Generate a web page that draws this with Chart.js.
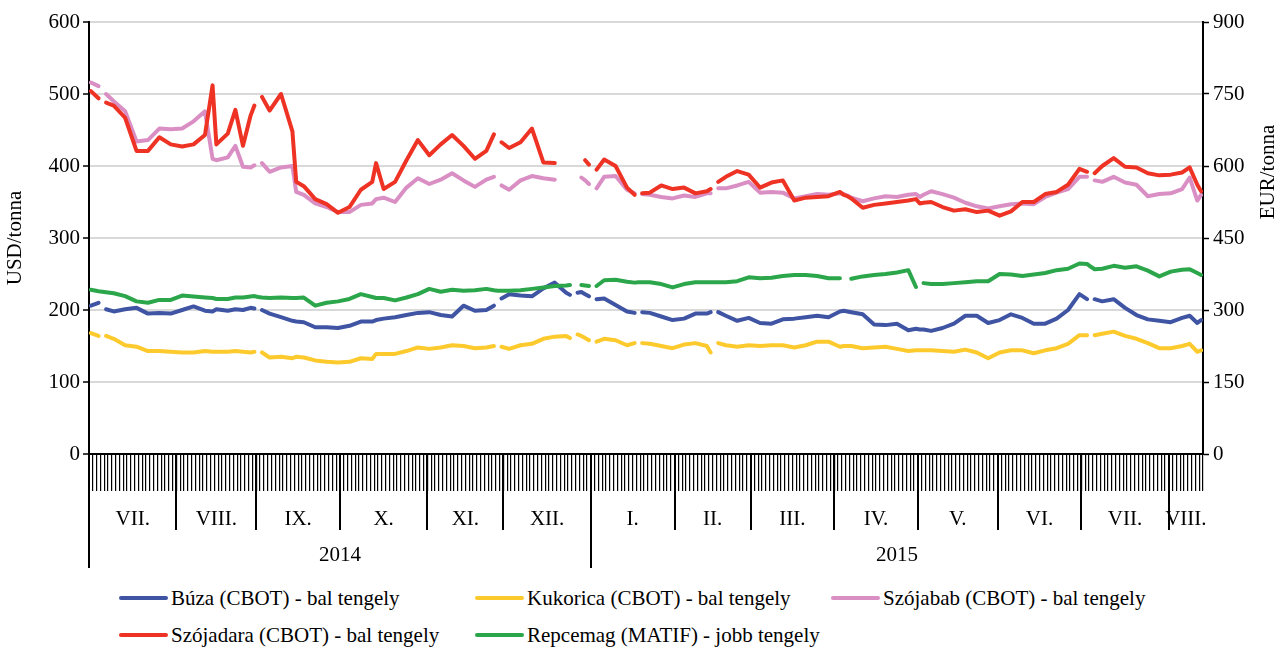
<!DOCTYPE html>
<html>
<head>
    <meta charset="utf-8">
    <title>Búza, kukorica, szója és repce árak</title>
    <script src="https://cdn.jsdelivr.net/npm/chart.js"></script>
    <style>
        body {
            margin: 0;
            background: #fff;
            font-family: 'Liberation Serif', 'Times New Roman', serif;
        }

        .wrap {
            position: relative;
            width: 1283px;
            height: 648px;
        }

        .chart-box {
            position: absolute;
            left: 0;
            top: 0;
            width: 1283px;
            height: 580px;
        }

        .legend-item {
            position: absolute;
            display: flex;
            align-items: center;
            font-size: 21px;
            line-height: 24px;
            height: 24px;
            color: #000;
            white-space: nowrap;
        }

            .legend-item .swatch {
                width: 49px;
                height: 4px;
                border-radius: 2px;
                margin-right: 3px;
            }
    </style>
</head>
<body>
    <div class="wrap">
        <div class="chart-box">
            <canvas id="priceChart" width="1283" height="580"></canvas>
        </div>
        <div id="legend"></div>
    </div>

    <script>
        // Kereskedési napok sorszáma (2014. júl. 1. = 0), a grafikon pontjai
        const days = [0, 2, 3, 4, 6,
            9, 12, 15, 18, 21, 24, 27, 30, 32, 33,
            36, 38, 40, 42, 43, 44, 45, 47, 50, 53,
            54, 56, 59, 62, 65, 68, 71, 74, 75, 77,
            80, 83, 86, 89, 92, 95, 98, 101, 104, 106,
            107, 108, 110, 113, 116, 119, 122, 125, 126, 127,
            128, 129, 130, 131, 132, 133, 135, 138, 141, 143,
            144, 145, 147, 150, 153, 156, 159, 162, 163, 164,
            165, 167, 170, 173, 176, 179, 182, 185, 188, 191,
            194, 197, 198, 199, 200, 203, 206, 209, 212, 215,
            217, 218, 219, 221, 224, 227, 230, 233, 236, 239,
            242, 245, 248, 251, 254, 257, 260, 262, 263, 264,
            266, 269, 272, 275, 278, 281, 284, 287, 289, 291,
            292];

        // USD/tonna
        const buza = [206, 210, null, 201, 198,
            201, 203, 195, 196, 195, 200, 205, 199, 198, 201,
            199, 201, 200, 203, 202, null, 200, 195, 190, 185,
            184, 183, 176, 176, 175, 178, 184, 184, 186, 188,
            190, 193, 196, 197, 193, 191, 206, 199, 200, 206,
            null, 216, 222, 220, 219, 230, 238, 224, 221, null,
            224, 225, 222, 219, null, 215, 216, 207, 198, 196,
            null, 197, 196, 191, 186, 188, 195, 195, 197, null,
            197, 192, 185, 189, 182, 181, 187, 188, 190, 192,
            190, 198, 199, 198, 197, 194, 180, 179, 181, 172,
            174, 173, 173, 171, 175, 181, 192, 192, 182, 186,
            194, 189, 181, 181, 188, 200, 222, 215, null, 215,
            212, 215, 203, 193, 187, 185, 183, 189, 192, 182,
            186];

        const kukorica = [168, 164, null, 164, 160,
            151, 149, 143, 143, 142, 141, 141, 143, 142, 142,
            142, 143, 142, 141, 142, null, 141, 134, 135, 133,
            135, 134, 130, 128, 127, 128, 133, 132, 139, 139,
            139, 143, 148, 146, 148, 151, 150, 147, 148, 150,
            null, 149, 146, 151, 153, 160, 163, 164, 161, null,
            166, 164, 161, 158, null, 156, 160, 158, 151, 154,
            null, 154, 153, 150, 147, 152, 154, 150, 141, null,
            154, 151, 149, 151, 150, 151, 151, 148, 151, 156,
            156, 149, 150, 150, 150, 147, 148, 149, 146, 143,
            144, 144, 144, 144, 143, 142, 145, 141, 133, 141,
            144, 144, 140, 144, 147, 153, 165, 165, null, 165,
            167, 170, 164, 160, 154, 147, 147, 150, 153, 142,
            144];

        const szojabab = [516, 511, null, 500, 490,
            476, 434, 436, 452, 451, 452, 462, 476, 410, 408,
            412, 428, 399, 398, 401, null, 404, 392, 398, 400,
            364, 360, 348, 343, 336, 336, 346, 348, 354, 356,
            350, 370, 383, 375, 381, 390, 380, 371, 381, 385,
            null, 373, 367, 380, 386, 383, 381, null, null, null,
            null, 384, 380, 375, null, 369, 385, 386, 367, 362,
            null, 361, 360, 357, 355, 359, 357, 362, 362, null,
            369, 369, 373, 378, 363, 364, 363, 355, 358, 361,
            360, 362, 361, 359, 356, 351, 355, 358, 357, 360,
            361, 357, 360, 365, 361, 356, 349, 344, 341, 344,
            347, 348, 347, 357, 363, 368, 385, 385, null, 380,
            378, 385, 377, 374, 358, 361, 362, 368, 384, 352,
            360];

        const szojadara = [504, 494, null, 488, 484,
            467, 421, 421, 440, 430, 427, 430, 443, 512, 430,
            445, 478, 428, 470, 484, null, 496, 477, 500, 448,
            378, 372, 354, 347, 335, 343, 367, 378, 404, 368,
            378, 408, 436, 415, 430, 443, 428, 410, 421, 444,
            null, 433, 425, 433, 452, 405, 404, null, null, null,
            null, null, 408, 402, null, 395, 409, 400, 370, 360,
            null, 362, 363, 373, 368, 370, 362, 365, 368, null,
            378, 385, 393, 388, 370, 377, 380, 352, 356, 357,
            358, 364, 360, 358, 355, 342, 346, 348, 350, 352,
            354, 348, 349, 350, 343, 338, 340, 336, 338, 331,
            337, 350, 350, 361, 364, 374, 396, 392, null, 390,
            400, 411, 399, 398, 390, 387, 388, 391, 398, 374,
            365];

        // EUR/tonna (jobb tengely)
        const repcemag = [342, 339, 338, 337, 335,
            329, 318, 315, 321, 321, 330, 328, 326, 325, 323,
            323, 326, 326, 328, 329, 327, 326, 325, 326, 325,
            325, 326, 309, 315, 318, 323, 333, 327, 325, 325,
            320, 326, 333, 344, 338, 342, 340, 341, 344, 341,
            340, 340, 340, 341, 344, 347, 350, 351, 352, null,
            null, 352, 351, 350, null, 350, 362, 363, 359, 357,
            358, 358, 358, 354, 347, 354, 358, 358, 358, 358,
            358, 358, 360, 368, 366, 367, 371, 373, 373, 371,
            366, 366, null, null, 365, 370, 373, 375, 378, 383,
            348, null, 356, 354, 354, 356, 358, 360, 360, 375,
            374, 371, 374, 377, 383, 386, 397, 396, 390, 385,
            386, 392, 388, 391, 382, 370, 380, 384, 385, 377,
            373];

        // Hónapok (kezdő nap sorszáma) és évek
        const totalDays = 293;
        const monthStarts = [0, 23, 44, 66, 89, 109, 132, 154, 174, 196, 218, 239, 261, 284];
        const monthLabels = ['VII.', 'VIII.', 'IX.', 'X.', 'XI.', 'XII.', 'I.', 'II.', 'III.', 'IV.', 'V.', 'VI.', 'VII.', 'VIII.'];
        const yearStarts = [0, 132];
        const yearLabels = ['2014', '2015'];

        const FONT = "'Liberation Serif', 'Times New Roman', serif";

        [buza, kukorica, szojabab, szojadara, repcemag].forEach(s => {
            if (s.length !== days.length) console.error('Hibás hossz:', s.length, days.length);
        });

        const toPoints = vals => days.map((d, i) => ({ x: d + 0.5, y: vals[i] }));

        const series = [
            { label: 'Búza (CBOT) - bal tengely', data: buza, color: '#3f54a3', axis: 'y', order: 4 },
            { label: 'Kukorica (CBOT) - bal tengely', data: kukorica, color: '#fdca2e', axis: 'y', order: 3 },
            { label: 'Szójabab (CBOT) - bal tengely', data: szojabab, color: '#da8fc4', axis: 'y', order: 2 },
            { label: 'Szójadara (CBOT) - bal tengely', data: szojadara, color: '#ee3224', axis: 'y', order: 1 },
            { label: 'Repcemag (MATIF) - jobb tengely', data: repcemag, color: '#2ba64a', axis: 'y2', order: 0 }
        ];

        // Alsó, többszintű tengely (hónapok, évek) és tengelycímek
        const bottomAxis = {
            id: 'bottomAxis',
            afterDraw(chart) {
                const { ctx, chartArea, scales: { x } } = chart;
                const y0 = chartArea.bottom;
                ctx.save();
                ctx.strokeStyle = '#000';
                ctx.lineWidth = 2;
                monthStarts.forEach(d => {
                    if (yearStarts.includes(d)) return;
                    const px = Math.round(x.getPixelForValue(d));
                    ctx.beginPath();
                    ctx.moveTo(px, y0);
                    ctx.lineTo(px, y0 + 76);
                    ctx.stroke();
                });
                yearStarts.forEach(d => {
                    const px = Math.round(x.getPixelForValue(d));
                    ctx.beginPath();
                    ctx.moveTo(px, y0);
                    ctx.lineTo(px, y0 + 114);
                    ctx.stroke();
                });

                ctx.fillStyle = '#000';
                ctx.font = '21px ' + FONT;
                ctx.textAlign = 'center';
                ctx.textBaseline = 'middle';
                monthStarts.forEach((d, i) => {
                    const end = i < monthStarts.length - 1 ? monthStarts[i + 1] : totalDays;
                    ctx.fillText(monthLabels[i], x.getPixelForValue((d + end) / 2), y0 + 65);
                });
                yearStarts.forEach((d, i) => {
                    const end = i < yearStarts.length - 1 ? yearStarts[i + 1] : totalDays;
                    ctx.fillText(yearLabels[i], x.getPixelForValue((d + end) / 2), y0 + 101);
                });

                const midY = (chartArea.top + chartArea.bottom) / 2;
                ctx.save();
                ctx.translate(15, midY);
                ctx.rotate(-Math.PI / 2);
                ctx.fillText('USD/tonna', 0, 0);
                ctx.restore();
                ctx.save();
                ctx.translate(1268, 172);
                ctx.rotate(-Math.PI / 2);
                ctx.fillText('EUR/tonna', 0, 0);
                ctx.restore();
                ctx.restore();
            }
        };

        const ctx = document.getElementById('priceChart');
        const priceChart = new Chart(ctx, {
            type: 'line',
            data: {
                datasets: series.map(s => ({
                    label: s.label,
                    data: toPoints(s.data),
                    yAxisID: s.axis,
                    order: s.order,
                    borderColor: s.color,
                    backgroundColor: s.color,
                    borderWidth: 4,
                    borderCapStyle: 'round',
                    borderJoinStyle: 'round',
                    pointRadius: 0,
                    tension: 0,
                    spanGaps: false,
                    fill: false
                }))
            },
            options: {
                responsive: false,
                animation: false,
                layout: { padding: { top: 22, left: 0, right: 0, bottom: 0 } },
                plugins: {
                    legend: { display: false },
                    tooltip: { enabled: false }
                },
                scales: {
                    x: {
                        type: 'linear',
                        min: 0,
                        max: totalDays,
                        ticks: { stepSize: 1, display: false, autoSkip: false },
                        grid: { drawOnChartArea: false, drawTicks: true, tickLength: 37, color: '#000', lineWidth: 1.2 },
                        border: { color: '#000', width: 2 },
                        afterFit: s => { s.height = 126; }
                    },
                    y: {
                        position: 'left',
                        min: 0,
                        max: 600,
                        ticks: { stepSize: 100, color: '#000', padding: 3, font: { family: FONT, size: 21 } },
                        grid: {
                            color: c => (c.tick && c.tick.value === 0) ? 'rgba(0,0,0,0)' : '#d9d9d9',
                            lineWidth: 2,
                            tickLength: 6,
                            tickColor: '#000',
                            tickWidth: 1.5
                        },
                        border: { color: '#000', width: 2 },
                        afterFit: s => { s.width = 89; }
                    },
                    y2: {
                        position: 'right',
                        min: 0,
                        max: 900,
                        ticks: { stepSize: 150, color: '#000', padding: 4, font: { family: FONT, size: 21 } },
                        grid: { drawOnChartArea: false, tickLength: 6, tickColor: '#000', tickWidth: 1.5 },
                        border: { color: '#000', width: 2 },
                        afterFit: s => { s.width = 80; }
                    }
                }
            },
            plugins: [bottomAxis]
        });

        // Jelmagyarázat
        const legendPos = [[119, 586], [475, 586], [831, 586], [119, 623], [475, 623]];
        const legend = document.getElementById('legend');
        series.forEach((s, i) => {
            const item = document.createElement('div');
            item.className = 'legend-item';
            item.style.left = legendPos[i][0] + 'px';
            item.style.top = legendPos[i][1] + 'px';
            item.innerHTML = '<span class="swatch" style="background:' + s.color + '"></span>' + s.label;
            legend.appendChild(item);
        });
    </script>
</body>
</html>
